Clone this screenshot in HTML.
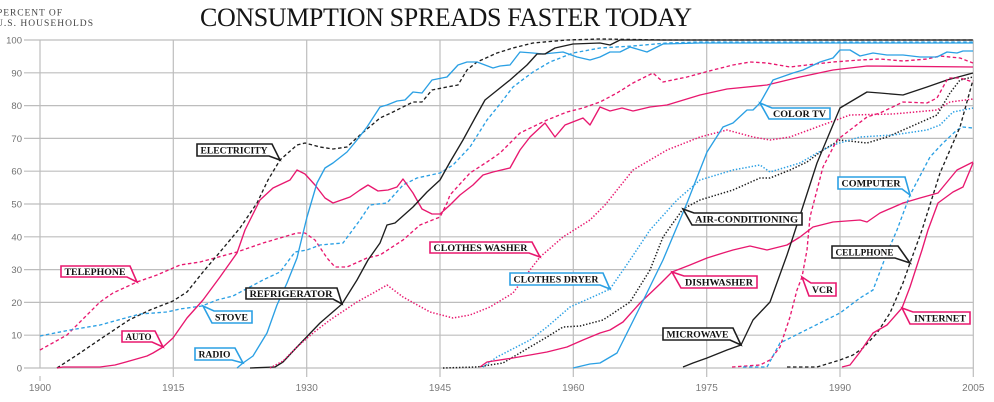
<!DOCTYPE html>
<html>
<head>
<meta charset="utf-8">
<style>
html,body{margin:0;padding:0;background:#fff;}
svg{display:block;}
.grid{stroke:#bdbdbd;stroke-width:1.2;fill:none;}
.yl{font-family:"Liberation Sans",sans-serif;font-size:9.5px;fill:#707070;text-anchor:end;}
.xl{font-family:"Liberation Sans",sans-serif;font-size:10px;fill:#7a7a7a;text-anchor:middle;}
.ln{fill:none;stroke-width:1.35;stroke-linejoin:round;}
.pk{stroke:#e8186f;}
.bl{stroke:#2ba0e4;}
.bk{stroke:#1e1e1e;}
.da{stroke-dasharray:3.5 2.5;}
.do{stroke-dasharray:1.4 1.8;stroke-width:1.5;}
.lb{fill:#fff;stroke-width:1.6;stroke-linejoin:miter;}
.lt{font-family:"Liberation Serif",serif;font-weight:bold;font-size:9.5px;fill:#111;}
</style>
</head>
<body>
<svg width="994" height="402" viewBox="0 0 994 402" xmlns="http://www.w3.org/2000/svg">
<!-- title -->
<text x="200" y="26" font-family="Liberation Serif, serif" font-size="26" fill="#151515" textLength="492" lengthAdjust="spacing">CONSUMPTION SPREADS FASTER TODAY</text>
<text x="-3" y="15.5" font-family="Liberation Serif, serif" font-size="9.5" fill="#444" textLength="65" lengthAdjust="spacing">PERCENT OF</text>
<text x="-4" y="26" font-family="Liberation Serif, serif" font-size="9.5" fill="#444" textLength="97" lengthAdjust="spacing">U.S. HOUSEHOLDS</text>

<!-- grid -->
<g class="grid">
<line x1="24" y1="40" x2="973.5" y2="40"/>
<line x1="24" y1="72.8" x2="973.5" y2="72.8"/>
<line x1="24" y1="105.6" x2="973.5" y2="105.6"/>
<line x1="24" y1="138.4" x2="973.5" y2="138.4"/>
<line x1="24" y1="171.2" x2="973.5" y2="171.2"/>
<line x1="24" y1="204" x2="973.5" y2="204"/>
<line x1="24" y1="236.8" x2="973.5" y2="236.8"/>
<line x1="24" y1="269.6" x2="973.5" y2="269.6"/>
<line x1="24" y1="302.4" x2="973.5" y2="302.4"/>
<line x1="24" y1="335.2" x2="973.5" y2="335.2"/>
<line x1="24" y1="368" x2="973.5" y2="368"/>
<line x1="40" y1="40" x2="40" y2="368"/>
<line x1="40" y1="376" x2="40" y2="381"/>
<line x1="173.3" y1="40" x2="173.3" y2="377"/>
<line x1="306.7" y1="40" x2="306.7" y2="377"/>
<line x1="440" y1="40" x2="440" y2="377"/>
<line x1="573.3" y1="40" x2="573.3" y2="377"/>
<line x1="706.7" y1="40" x2="706.7" y2="377"/>
<line x1="840" y1="40" x2="840" y2="377"/>
<line x1="973.3" y1="40" x2="973.3" y2="377"/>
</g>

<!-- y labels -->
<text class="yl" x="22" y="43.5">100</text>
<text class="yl" x="22" y="76.3">90</text>
<text class="yl" x="22" y="109.1">80</text>
<text class="yl" x="22" y="141.9">70</text>
<text class="yl" x="22" y="174.7">60</text>
<text class="yl" x="22" y="207.5">50</text>
<text class="yl" x="22" y="240.3">40</text>
<text class="yl" x="22" y="273.1">30</text>
<text class="yl" x="22" y="305.9">20</text>
<text class="yl" x="22" y="338.7">10</text>
<text class="yl" x="22" y="371.5">0</text>

<!-- x labels -->
<text class="xl" x="40" y="391">1900</text>
<text class="xl" x="173.3" y="391">1915</text>
<text class="xl" x="306.7" y="391">1930</text>
<text class="xl" x="440" y="391">1945</text>
<text class="xl" x="573.3" y="391">1960</text>
<text class="xl" x="706.7" y="391">1975</text>
<text class="xl" x="840" y="391">1990</text>
<text class="xl" x="973.3" y="391">2005</text>

<!-- series -->
<polyline class="ln pk da" points="40,350 67,335 100,302 113,293 137,282 157,275 180,265 200,262 237,252 263,243 297,233 305,233 315,240 327,258 335,267 347,267 367,258 380,255 403,240 420,225 440,217 447,203 450,195 470,173 490,160 500,153 520,133 547,120 567,112 583,108 600,102 617,93 633,83 653,73 663,82 687,77 713,70 733,65 750,62 767,63 790,67 807,65 833,62 860,60 880,59 903,61 927,59 940,56 960,58 973,63"/>
<polyline class="ln bl da" points="40,336 70,330 100,325 140,314 167,312 180,309 202,306 217,300 233,296 263,280 280,272 295,252 307,250 320,245 343,243 360,220 370,205 387,203 403,185 417,178 440,173 453,165 470,147 487,120 500,104 513,87 533,72 550,62 573,53 600,48 633,46 667,43 700,42 973,42"/>
<polyline class="ln bk da" points="57,368 80,353 105,336 129,320 150,310 173,301 187,292 203,272 220,252 240,228 257,203 268,180 280,160 297,145 305,143 320,147 333,149 347,147 360,135 380,118 393,112 413,102 422,102 432,90 447,87 458,85 467,70 477,62 497,53 513,48 533,43 567,40 600,39 665,40 973,40"/>
<polyline class="ln pk" points="57,368 63,367 100,367 115,365 133,360 147,356 153,353 163,347 173,338 187,318 203,300 220,277 237,253 245,230 260,200 273,188 290,180 297,170 305,174 315,185 325,198 333,203 350,197 360,190 368,185 378,191 388,190 397,187 403,179 413,193 422,209 432,214 440,214 450,205 460,195 473,185 483,175 493,172 510,168 520,150 530,137 545,123 555,137 565,125 583,118 590,125 600,107 610,111 622,108 633,111 650,107 667,105 700,95 727,89 767,85 800,77 833,70 867,66 973,67"/>
<polyline class="ln bl" points="237,368 243,363 253,356 267,333 277,305 287,283 297,258 307,217 317,183 325,168 333,163 347,152 357,140 367,127 380,107 387,105 397,101 405,100 413,92 422,93 432,80 447,77 458,65 467,62 477,62 493,68 500,66 510,65 520,52 533,53 543,54 563,52 577,57 590,60 600,57 610,52 620,52 630,47 647,52 663,44 700,43 973,43"/>
<polyline class="ln bk" points="250,368 275,367 283,362 297,347 320,323 342,304 357,280 368,260 380,243 387,225 395,223 413,207 427,192 440,180 450,162 463,140 475,118 485,100 495,92 510,80 527,65 537,54 545,54 555,48 573,44 600,43 610,45 620,40 973,40"/>
<polyline class="ln pk do" points="270,368 283,361 297,347 313,333 330,320 357,302 375,292 387,285 403,297 430,312 453,318 470,315 490,307 513,293 530,270 540,257 563,237 590,220 605,205 633,170 667,150 700,137 727,130 753,137 770,140 790,137 817,127 850,115 893,114 937,110 950,102 973,99"/>
<polyline class="ln bk do" points="443,368 477,367 503,363 530,347 547,337 563,327 580,326 603,320 630,302 650,270 663,237 683,209 700,200 733,190 760,178 770,178 790,170 807,162 823,150 840,140 867,143 887,137 910,127 937,115 950,93 960,80 973,77"/>
<polyline class="ln bl do" points="483,367 497,357 530,340 547,327 570,307 597,295 610,289 630,260 650,230 677,200 700,180 733,170 760,165 770,172 800,163 817,153 833,145 860,137 893,135 927,130 940,125 953,112 973,108"/>
<polyline class="ln pk" points="480,367 487,362 513,358 547,352 567,347 583,340 600,333 610,330 623,322 640,303 660,284 672,272 690,265 707,258 723,253 733,250 750,246 767,250 787,245 800,237 813,227 833,222 860,220 867,222 880,213 903,203 920,198 938,193 957,170 973,162"/>
<polyline class="ln bl" points="573,368 590,364 600,363 617,353 640,307 663,260 687,203 707,152 723,127 733,123 747,110 753,110 760,103 773,80 793,73 803,70 820,62 833,58 840,50 850,50 860,56 873,53 887,55 903,55 920,57 937,57 947,52 957,53 963,51 973,51"/>
<polyline class="ln bk" points="683,367 693,363 707,358 727,350 741,345 753,320 770,302 787,255 793,237 817,163 840,108 867,92 880,93 903,95 927,87 947,80 973,73"/>
<polyline class="ln pk da" points="732,367 760,365 770,360 780,347 790,317 797,290 802,277 807,250 810,217 823,167 837,140 850,130 867,117 880,113 903,102 927,103 937,98 948,78 960,78 973,82"/>
<polyline class="ln bl da" points="743,367 767,367 780,343 800,333 820,323 840,313 860,298 873,290 887,253 897,230 910,195 930,157 943,143 957,130 963,127 973,128"/>
<polyline class="ln bk da" points="787,367 817,367 840,360 853,355 863,348 877,333 890,313 903,283 910,263 922,230 940,173 960,127 973,80"/>
<polyline class="ln pk" points="842,367 850,365 860,352 873,333 887,325 902,308 910,287 922,250 928,230 938,203 953,192 963,187 973,163"/>

<!-- labels: lower-right tips -->
<g>
<polygon class="lb" stroke="#1e1e1e" points="197,144 272,144 280,160 269,156 197,156"/>
<text class="lt" x="200.5" y="153.3" textLength="67" lengthAdjust="spacingAndGlyphs">ELECTRICITY</text>

<polygon class="lb" stroke="#e8186f" points="61,266 130,266 137,282 127,277 61,277"/>
<text class="lt" x="64.5" y="275" textLength="61" lengthAdjust="spacingAndGlyphs">TELEPHONE</text>

<polygon class="lb" stroke="#e8186f" points="122,331 155,331 163,347 152,342 122,342"/>
<text class="lt" x="125.5" y="340" textLength="26" lengthAdjust="spacingAndGlyphs">AUTO</text>

<polygon class="lb" stroke="#2ba0e4" points="195,348 235,348 243,363 232,360 195,360"/>
<text class="lt" x="198.5" y="357.5" textLength="32" lengthAdjust="spacingAndGlyphs">RADIO</text>

<polygon class="lb" stroke="#1e1e1e" points="246,288 337,288 342,304 333,299 246,299"/>
<text class="lt" x="249.5" y="297" textLength="83" lengthAdjust="spacingAndGlyphs">REFRIGERATOR</text>

<polygon class="lb" stroke="#e8186f" points="430,242 532,242 540,257 529,253 430,253"/>
<text class="lt" x="433.5" y="251" textLength="94" lengthAdjust="spacingAndGlyphs">CLOTHES WASHER</text>

<polygon class="lb" stroke="#2ba0e4" points="510,273 603,273 610,289 600,285 510,285"/>
<text class="lt" x="513.5" y="282.5" textLength="85" lengthAdjust="spacingAndGlyphs">CLOTHES DRYER</text>

<polygon class="lb" stroke="#2ba0e4" points="838,177 905,177 910,195 902,189 838,189"/>
<text class="lt" x="841.5" y="186.5" textLength="59" lengthAdjust="spacingAndGlyphs">COMPUTER</text>

<polygon class="lb" stroke="#1e1e1e" points="832,246 898,246 910,263 895,258 832,258"/>
<text class="lt" x="835.5" y="255.5" textLength="58" lengthAdjust="spacingAndGlyphs">CELLPHONE</text>

<polygon class="lb" stroke="#1e1e1e" points="663,328 733,328 741,345 730,340 663,340"/>
<text class="lt" x="666.5" y="337.5" textLength="62" lengthAdjust="spacingAndGlyphs">MICROWAVE</text>
</g>

<!-- labels: upper-left tips -->
<g>
<polygon class="lb" stroke="#2ba0e4" points="203,306 214,311 252,311 252,323 212,323"/>
<text class="lt" x="215" y="320.5" textLength="33" lengthAdjust="spacingAndGlyphs">STOVE</text>

<polygon class="lb" stroke="#1e1e1e" points="683,209 694,213 802,213 802,225 692,225"/>
<text class="lt" x="695" y="222.5" textLength="103" lengthAdjust="spacingAndGlyphs">AIR-CONDITIONING</text>

<polygon class="lb" stroke="#2ba0e4" points="760,103 772,108 830,108 830,119 769,119"/>
<text class="lt" x="773" y="117" textLength="53" lengthAdjust="spacingAndGlyphs">COLOR TV</text>

<polygon class="lb" stroke="#e8186f" points="672,272 684,276 757,276 757,288 681,288"/>
<text class="lt" x="685" y="285.5" textLength="68" lengthAdjust="spacingAndGlyphs">DISHWASHER</text>

<polygon class="lb" stroke="#e8186f" points="802,277 811,283 836,283 836,296 809,296"/>
<text class="lt" x="812" y="293" textLength="21" lengthAdjust="spacingAndGlyphs">VCR</text>

<polygon class="lb" stroke="#e8186f" points="902,308 913,312 970,312 970,324 910,324"/>
<text class="lt" x="914" y="321.5" textLength="52" lengthAdjust="spacingAndGlyphs">INTERNET</text>
</g>
</svg>
</body>
</html>
